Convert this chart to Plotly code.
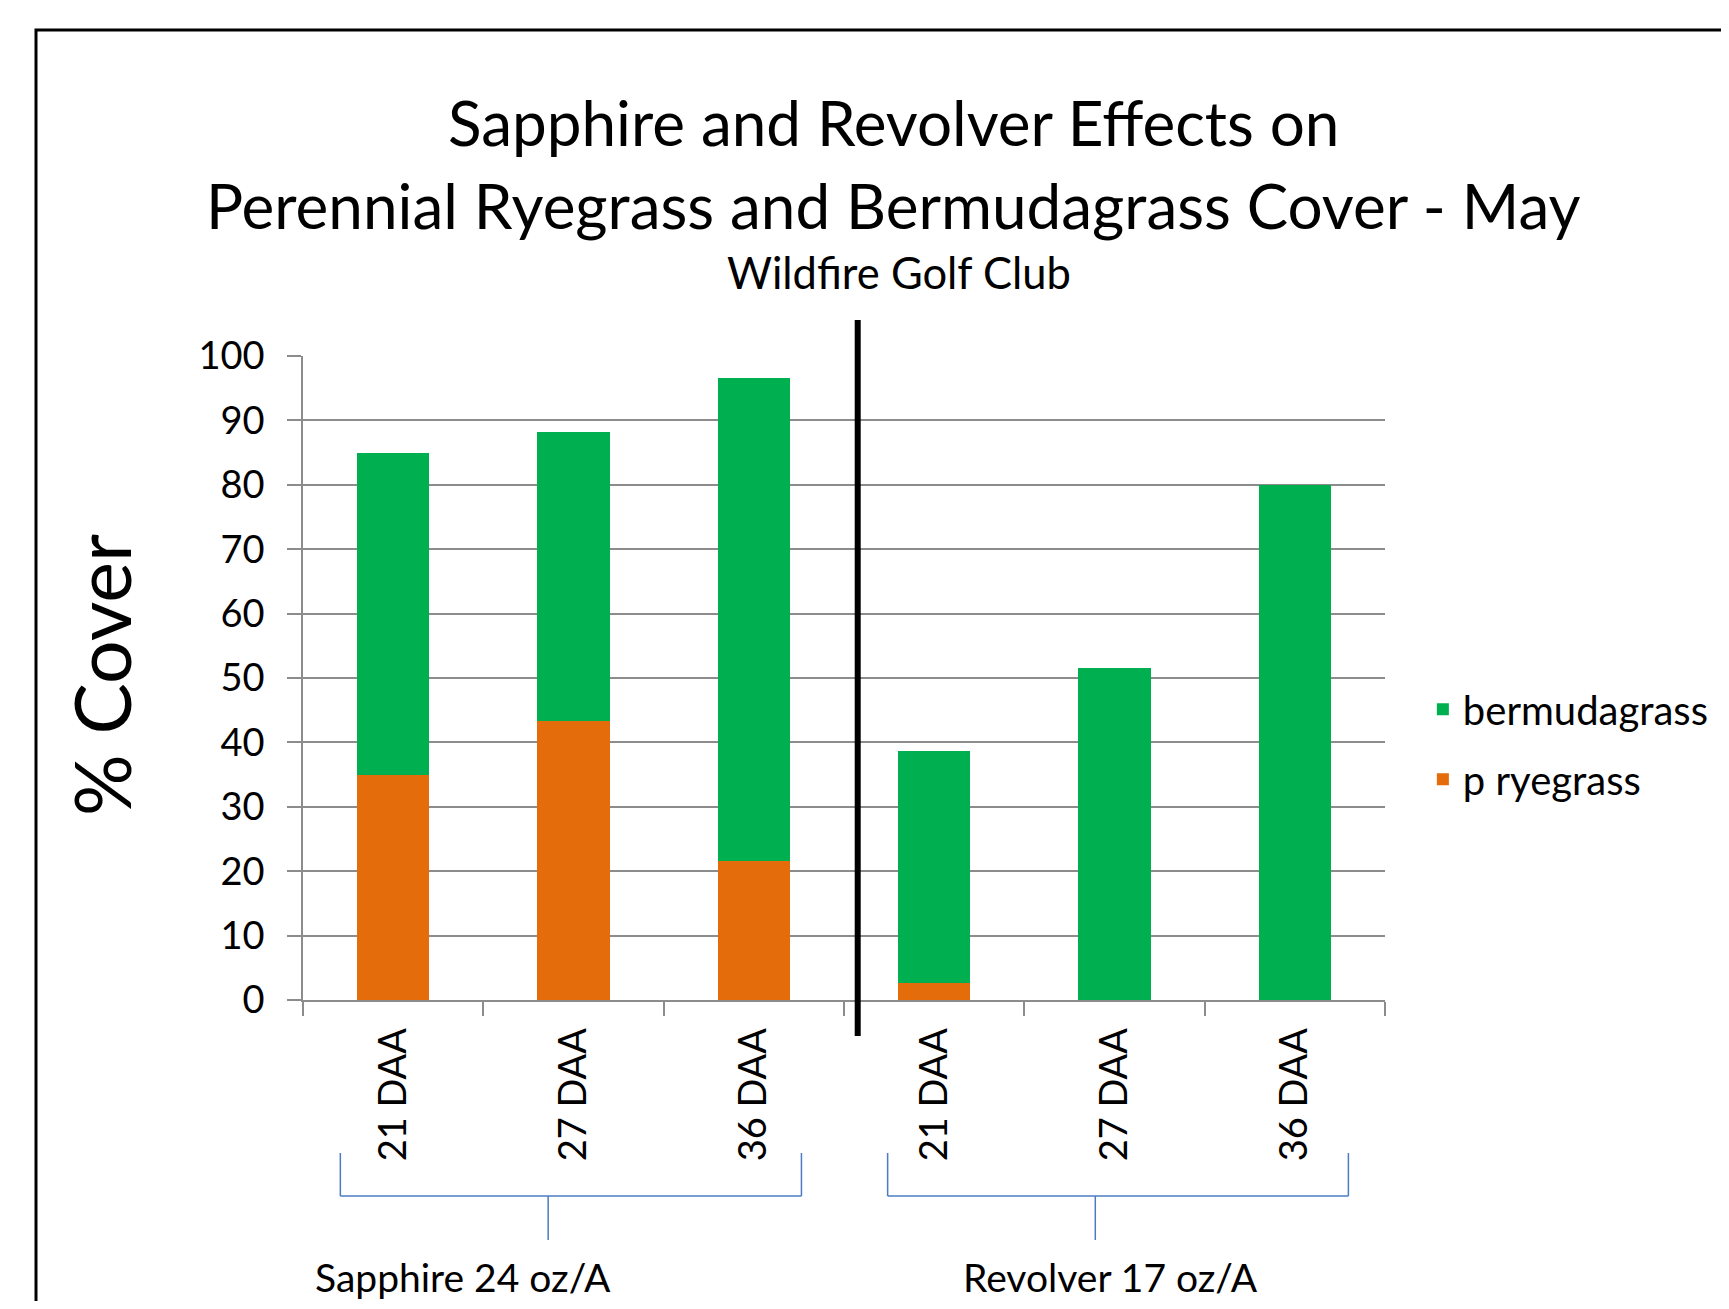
import plotly.graph_objects as go

# ---- data ----
category_ids = ["S21", "S27", "S36", "R21", "R27", "R36"]
tick_labels = ["21 DAA", "27 DAA", "36 DAA", "21 DAA", "27 DAA", "36 DAA"]
ryegrass = [35.0, 43.3, 21.6, 2.6, 0.0, 0.0]
bermudagrass = [50.0, 44.9, 75.0, 36.1, 51.6, 80.0]
groups = ["Sapphire 24 oz/A", "Revolver 17 oz/A"]
group_members = [[0, 1, 2], [3, 4, 5]]
title_lines = ["Sapphire and Revolver Effects on",
               "Perennial Ryegrass and Bermudagrass Cover - May"]
subtitle = "Wildfire Golf Club"
y_title = "% Cover"

FONT = "Lato"
GREEN = "#00B050"
ORANGE = "#E46C0A"
GRID = "#8c8c8c"
BRACKET = "#4a7cc4"

# page has an 8px body margin; figure drawn at (8, 8); keep it inside the window
W, H = 1721, 1293
PW, PH = 1082, 644
L, T = 295, 348
R, B = W - L - PW, H - T - PH


def px_x(sx):  # screen x -> paper x
    return (sx - 8 - L) / PW


def px_y(sy):  # screen y -> paper y
    return (PH - (sy - 8 - T)) / PH


fig = go.Figure()
fig.add_trace(go.Bar(x=category_ids, y=ryegrass, name="p ryegrass",
                     marker=dict(color=ORANGE, line=dict(width=0)),
                     legendgroup="rye", legendrank=2))
fig.add_trace(go.Bar(x=category_ids, y=bermudagrass, name="bermudagrass",
                     marker=dict(color=GREEN, line=dict(width=0)),
                     legendgroup="berm", legendrank=1))

fig.update_layout(
    width=W, height=H,
    margin=dict(l=L, r=R, t=T, b=B, autoexpand=False),
    barmode="stack", bargap=0.6,
    plot_bgcolor="white", paper_bgcolor="white",
    font=dict(family=FONT, color="black", size=38),
    showlegend=True,
    legend=dict(x=1.035, y=0.397, xanchor="left", yanchor="middle",
                traceorder="grouped", tracegroupgap=15,
                font=dict(size=40, family=FONT), bgcolor="rgba(0,0,0,0)"),
)

fig.update_xaxes(
    type="category", categoryorder="array", categoryarray=category_ids,
    tickmode="array", tickvals=category_ids, ticktext=tick_labels,
    tickangle=-90, tickson="boundaries", ticks="outside", ticklen=14,
    tickcolor=GRID, tickwidth=1.5, ticklabelstandoff=11,
    showline=True, linecolor=GRID, linewidth=1.5,
    showgrid=False, range=[-0.5, 5.5],
    tickfont=dict(size=38, family=FONT),
)
fig.update_yaxes(
    range=[0, 100], dtick=10, tick0=0,
    showgrid=True, gridcolor=GRID, gridwidth=1.5,
    zeroline=False,
    showline=True, linecolor=GRID, linewidth=1.5,
    ticks="outside", ticklen=14, tickcolor=GRID, tickwidth=1.5,
    ticklabelstandoff=15,
    tickfont=dict(size=38, family=FONT),
)

# outer border (runs off the right and bottom edges, as in the original)
fig.add_shape(type="rect", xref="paper", yref="paper",
              x0=px_x(36), x1=1.5, y0=-0.6, y1=px_y(30),
              line=dict(color="black", width=3), fillcolor="rgba(0,0,0,0)",
              layer="below")

# separator between the two products
sep_x = 2.5 + 0.076
fig.add_shape(type="line", xref="x", yref="paper", x0=sep_x, x1=sep_x,
              y0=px_y(320), y1=px_y(1036), line=dict(color="black", width=6))

# group brackets
left_pads = [0.293, 0.258]
right_pads = [0.264, 0.297]
stem_shift = -0.126
label_pos = [0.387, 3.976]
y_top, y_bar, y_stem = px_y(1153), px_y(1196), px_y(1240)
for members, label, lp, rp, lx in zip(group_members, groups, left_pads, right_pads, label_pos):
    left = members[0] - lp
    right = members[-1] + rp
    stem = (left + right) / 2 + stem_shift
    for (x0, y0, x1, y1) in [(left, y_top, left, y_bar), (right, y_top, right, y_bar),
                             (left, y_bar, right, y_bar), (stem, y_bar, stem, y_stem)]:
        fig.add_shape(type="line", xref="x", yref="paper", x0=x0, y0=y0, x1=x1, y1=y1,
                      line=dict(color=BRACKET, width=1.5))
    fig.add_annotation(x=lx, y=px_y(1277), xref="x", yref="paper",
                       text=label, showarrow=False, xanchor="center", yanchor="middle",
                       font=dict(size=39, family=FONT))

# titles
fig.add_annotation(x=px_x(893), y=px_y(121.5), xref="paper", yref="paper", text=title_lines[0],
                   showarrow=False, xanchor="center", yanchor="middle",
                   font=dict(size=62, family=FONT))
fig.add_annotation(x=px_x(893), y=px_y(204.5), xref="paper", yref="paper", text=title_lines[1],
                   showarrow=False, xanchor="center", yanchor="middle",
                   font=dict(size=62, family=FONT))
fig.add_annotation(x=px_x(899), y=px_y(272), xref="paper", yref="paper", text=subtitle,
                   showarrow=False, xanchor="center", yanchor="middle",
                   font=dict(size=43.5, family=FONT))
# y axis title
fig.add_annotation(x=px_x(101), y=px_y(675), xref="paper", yref="paper",
                   text=y_title, textangle=-90, showarrow=False,
                   xanchor="center", yanchor="middle",
                   font=dict(size=77, family=FONT))

fig.write_html("out.html")
